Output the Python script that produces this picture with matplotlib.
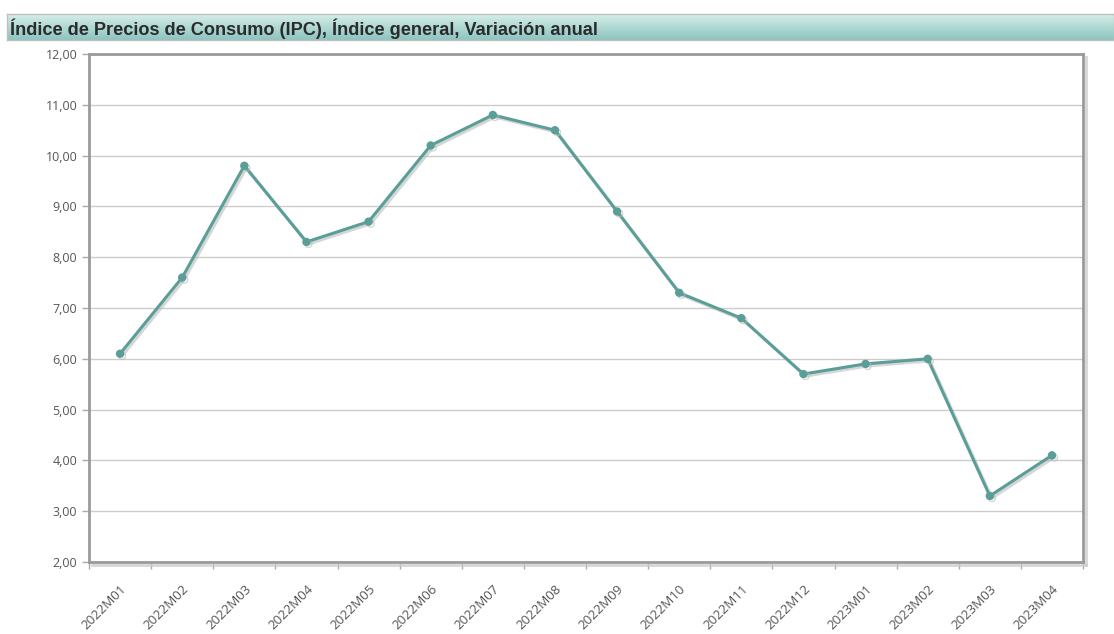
import numpy as np
import matplotlib
matplotlib.use('Agg')
import matplotlib.pyplot as plt
import matplotlib.patheffects as pe
from matplotlib import ticker

periods = ['2022M01', '2022M02', '2022M03', '2022M04', '2022M05', '2022M06',
           '2022M07', '2022M08', '2022M09', '2022M10', '2022M11', '2022M12',
           '2023M01', '2023M02', '2023M03', '2023M04']
ipc = [6.1, 7.6, 9.8, 8.3, 8.7, 10.2, 10.8, 10.5, 8.9, 7.3, 6.8, 5.7,
       5.9, 6.0, 3.3, 4.1]
title = 'Índice de Precios de Consumo (IPC), Índice general, Variación anual'

W, H = 1114, 634
fig = plt.figure(figsize=(W / 100, H / 100), dpi=100)

# title bar with gradient
tax = fig.add_axes([7 / W, 1 - 40 / H, (W - 7) / W, 26 / H])
top = np.array([0.84, 0.93, 0.91])
bot = np.array([0.55, 0.77, 0.75])
grad = np.linspace(0, 1, 50)[:, None, None] * (bot - top) + top
tax.imshow(grad, aspect='auto', extent=[0, 1, 0, 1], origin='upper')
tax.set_xlim(0, 1)
tax.set_ylim(0, 1)
tax.set_xticks([])
tax.set_yticks([])
for s in tax.spines.values():
    s.set_color('#c0c0c0')
    s.set_linewidth(1)
tax.text(3 / (W - 7), 0.45, title, fontsize=13.1, fontweight='bold',
         family='Liberation Sans', color='#2b2b2b', va='center', ha='left')

# main chart
ax = fig.add_axes([89 / W, 1 - 562 / H, (1083 - 89) / W, (562 - 54) / H])
n = len(periods)
x = np.arange(n)
shadow = [pe.SimpleLineShadow(offset=(1.5, -1.5), shadow_color='#bbbbbb', alpha=0.6), pe.Normal()]
ax.plot(x, ipc, color='#5a9e98', lw=2.2, marker='o', ms=5,
        path_effects=shadow, zorder=3)
ax.set_xlim(-0.5, n - 0.5)
ax.set_ylim(2, 12)
ax.yaxis.set_major_locator(ticker.MultipleLocator(1))
ax.yaxis.set_major_formatter(ticker.FuncFormatter(lambda v, p: f'{v:.2f}'.replace('.', ',')))
ax.grid(axis='y', color='#cccccc', lw=1)
ax.set_axisbelow(True)

ax.set_xticks(np.arange(n + 1) - 0.5)
ax.set_xticklabels([])
ax.set_xticks(x, minor=True)
ax.set_xticklabels(periods, minor=True, rotation=45, ha='right', va='top',
                   rotation_mode='anchor')
ax.tick_params(axis='x', which='minor', length=0, pad=15)
ax.tick_params(axis='both', which='major', length=5, color='#aaaaaa', width=1)
ax.tick_params(axis='both', which='both', labelsize=9.5, labelcolor='#555555')
for lab in ax.get_xticklabels(minor=True) + ax.get_yticklabels():
    lab.set_family('Open Sans')
ax.tick_params(axis='y', labelsize=9)

for s in ax.spines.values():
    s.set_color('#9a9a9a')
    s.set_linewidth(2)
for side in ['right', 'bottom']:
    ax.spines[side].set_path_effects([pe.SimpleLineShadow(offset=(2, -2), shadow_color='#cccccc', alpha=0.8), pe.Normal()])

fig.savefig('out.png', dpi=100)
